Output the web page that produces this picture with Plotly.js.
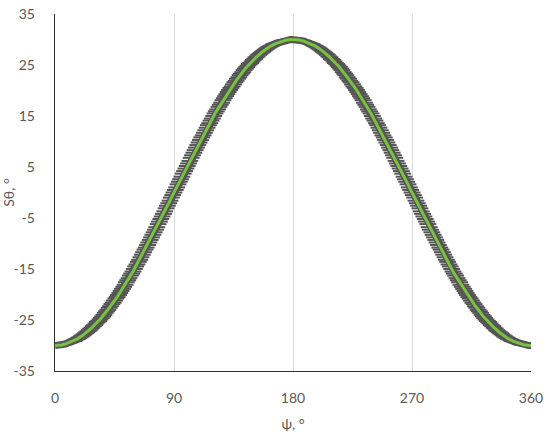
<!DOCTYPE html>
<html>
<head>
<meta charset="utf-8">
<script src="https://cdn.plot.ly/plotly-3.0.1.min.js"></script>
<style>html,body{margin:0;padding:0;background:#fff;}#chart{width:550px;height:437px;}</style>
</head>
<body>
<div id="chart"></div>
<script>
// psi from 0 to 360 deg, step 1 deg (x0 = 0, dx = 1)
var psiStart = 0;
var psiStep = 1;
var sTheta = [
-30.0,-30.0,-30.0,-30.0,-29.9,-29.9,-29.8,-29.8,-29.7,-29.6,-29.5,-29.4,-29.3,-29.2,-29.1,-29.0,-28.8,-28.7,-28.5,-28.4,
-28.2,-28.0,-27.8,-27.6,-27.4,-27.2,-27.0,-26.7,-26.5,-26.2,-26.0,-25.7,-25.4,-25.2,-24.9,-24.6,-24.3,-24.0,-23.6,-23.3,
-23.0,-22.6,-22.3,-21.9,-21.6,-21.2,-20.8,-20.5,-20.1,-19.7,-19.3,-18.9,-18.5,-18.1,-17.6,-17.2,-16.8,-16.3,-15.9,-15.5,
-15.0,-14.5,-14.1,-13.6,-13.2,-12.7,-12.2,-11.7,-11.2,-10.8,-10.3,-9.8,-9.3,-8.8,-8.3,-7.8,-7.3,-6.8,-6.2,-5.7,
-5.2,-4.7,-4.2,-3.7,-3.1,-2.6,-2.1,-1.6,-1.0,-0.5,0.0,
0.5,1.0,1.6,2.1,2.6,3.1,3.7,4.2,4.7,5.2,5.7,6.2,6.8,7.3,7.8,8.3,8.8,9.3,9.8,10.3,
10.8,11.2,11.7,12.2,12.7,13.2,13.6,14.1,14.5,15.0,15.5,15.9,16.3,16.8,17.2,17.6,18.1,18.5,18.9,19.3,
19.7,20.1,20.5,20.8,21.2,21.6,21.9,22.3,22.6,23.0,23.3,23.6,24.0,24.3,24.6,24.9,25.2,25.4,25.7,26.0,
26.2,26.5,26.7,27.0,27.2,27.4,27.6,27.8,28.0,28.2,28.4,28.5,28.7,28.8,29.0,29.1,29.2,29.3,29.4,29.5,
29.6,29.7,29.8,29.8,29.9,29.9,30.0,30.0,30.0,30.0,
30.0,30.0,30.0,29.9,29.9,29.8,29.8,29.7,29.6,29.5,29.4,29.3,29.2,29.1,29.0,28.8,28.7,28.5,28.4,28.2,
28.0,27.8,27.6,27.4,27.2,27.0,26.7,26.5,26.2,26.0,25.7,25.4,25.2,24.9,24.6,24.3,24.0,23.6,23.3,23.0,
22.6,22.3,21.9,21.6,21.2,20.8,20.5,20.1,19.7,19.3,18.9,18.5,18.1,17.6,17.2,16.8,16.3,15.9,15.5,15.0,
14.5,14.1,13.6,13.2,12.7,12.2,11.7,11.2,10.8,10.3,9.8,9.3,8.8,8.3,7.8,7.3,6.8,6.2,5.7,5.2,
4.7,4.2,3.7,3.1,2.6,2.1,1.6,1.0,0.5,0.0,
-0.5,-1.0,-1.6,-2.1,-2.6,-3.1,-3.7,-4.2,-4.7,-5.2,-5.7,-6.2,-6.8,-7.3,-7.8,-8.3,-8.8,-9.3,-9.8,-10.3,
-10.8,-11.2,-11.7,-12.2,-12.7,-13.2,-13.6,-14.1,-14.5,-15.0,-15.5,-15.9,-16.3,-16.8,-17.2,-17.6,-18.1,-18.5,-18.9,-19.3,
-19.7,-20.1,-20.5,-20.8,-21.2,-21.6,-21.9,-22.3,-22.6,-23.0,-23.3,-23.6,-24.0,-24.3,-24.6,-24.9,-25.2,-25.4,-25.7,-26.0,
-26.2,-26.5,-26.7,-27.0,-27.2,-27.4,-27.6,-27.8,-28.0,-28.2,-28.4,-28.5,-28.7,-28.8,-29.0,-29.1,-29.2,-29.3,-29.4,-29.5,
-29.6,-29.7,-29.8,-29.8,-29.9,-29.9,-30.0,-30.0,-30.0,-30.0
];
var xTicks = [0, 90, 180, 270, 360];
var yTicks = [-35, -25, -15, -5, 5, 15, 25, 35];

var font = {family: 'Lato, "Open Sans", sans-serif', size: 14, color: '#595959'};

var traces = [
  {
    type: 'scatter', mode: 'lines+markers', x0: psiStart, dx: psiStep, y: sTheta,
    line: {color: '#555555', width: 7},
    marker: {symbol: 'line-ew', size: 12, color: '#555555', line: {color: '#555555', width: 2}},
    hoverinfo: 'skip', showlegend: false
  },
  {
    type: 'scatter', mode: 'lines', x0: psiStart, dx: psiStep, y: sTheta,
    line: {color: '#7ac143', width: 3},
    showlegend: false
  }
];

var layout = {
  width: 550, height: 437,
  margin: {l: 55, r: 19, t: 14, b: 66},
  paper_bgcolor: '#fff', plot_bgcolor: '#fff',
  font: font,
  showlegend: false,
  xaxis: {
    range: [0, 360], tickvals: xTicks, ticktext: xTicks.map(String),
    showgrid: true, gridcolor: '#d9d9d9', gridwidth: 1,
    zeroline: false, showline: true, linecolor: '#333', linewidth: 1.3,
    ticks: 'outside', ticklen: 14, tickcolor: 'rgba(0,0,0,0)',
    tickfont: font,
    title: {text: 'ψ, °', font: font, standoff: 14}
  },
  yaxis: {
    range: [-35, 35], tickvals: yTicks, ticktext: yTicks.map(String),
    showgrid: false, zeroline: false, showline: true, linecolor: '#333', linewidth: 1.3,
    ticks: 'outside', ticklen: 16, tickcolor: 'rgba(0,0,0,0)',
    tickfont: font,
    title: {text: 'Sθ, °', font: font, standoff: 2}
  }
};

Plotly.newPlot('chart', traces, layout, {staticPlot: true, displayModeBar: false});
</script>
</body>
</html>
